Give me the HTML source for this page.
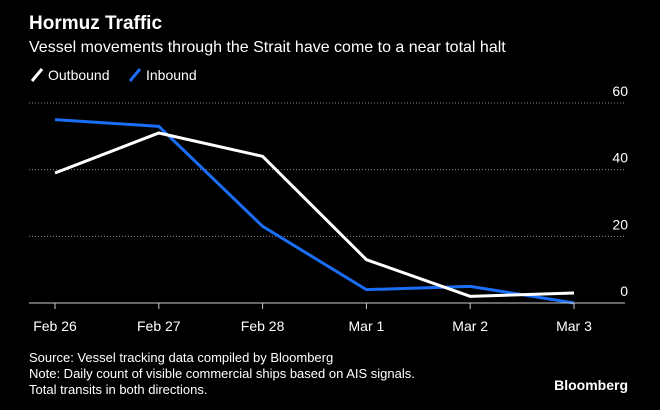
<!DOCTYPE html>
<html><head><meta charset="utf-8"><style>
body{margin:0;background:#000;width:660px;height:405px;overflow:hidden;font-family:"Liberation Sans",sans-serif;color:#fff}
</style></head><body>
<svg width="660" height="405" xmlns="http://www.w3.org/2000/svg">
<text x="29" y="29" font-size="19" font-weight="bold" fill="#fff">Hormuz Traffic</text>
<text x="29" y="52" font-size="16" fill="#fff">Vessel movements through the Strait have come to a near total halt</text>
<g><line x1="32" y1="81" x2="42" y2="69" stroke="#fff" stroke-width="3"/><text x="48" y="80" font-size="14" fill="#fff">Outbound</text></g>
<g><line x1="130" y1="81" x2="140" y2="69" stroke="#1a6ef5" stroke-width="3"/><text x="146" y="80" font-size="14" fill="#fff">Inbound</text></g>
<g id="grid"></g><g id="series"></g><g id="xaxis"></g>
<text x="29" y="362" font-size="13" fill="#fff">Source: Vessel tracking data compiled by Bloomberg</text>
<text x="29" y="378" font-size="13" fill="#fff">Note: Daily count of visible commercial ships based on AIS signals.</text>
<text x="29" y="394" font-size="13" fill="#fff">Total transits in both directions.</text>
<text x="628" y="390" font-size="14" font-weight="bold" fill="#fff" text-anchor="end">Bloomberg</text>
</svg>
<script>
const categories=["Feb 26","Feb 27","Feb 28","Mar 1","Mar 2","Mar 3"];
const outbound=[39,51,44,13,2,3];
const inbound=[55,53,23,4,5,0];
const yTicks=[0,20,40,60];
const NS="http://www.w3.org/2000/svg";
const x0=55,x1=574,yBase=303,yTop=103,yMax=60;
const xs=i=>x0+i*(x1-x0)/(categories.length-1);
const ys=v=>yBase-v*(yBase-yTop)/yMax;
function mk(t,a,p){const e=document.createElementNS(NS,t);for(const k in a)e.setAttribute(k,a[k]);p.appendChild(e);return e;}
const grid=document.getElementById('grid');
yTicks.forEach(v=>{
 if(v>0){const l=mk('line',{x1:29,x2:625,y1:ys(v),y2:ys(v),stroke:'#888','stroke-width':1,'stroke-dasharray':'1 2'},grid);
 
 }
 const t=mk('text',{x:628,y:ys(v)-7,'font-size':14,fill:'#fff','text-anchor':'end'},grid);t.textContent=v;
 
 
});
const xa=document.getElementById('xaxis');
const base=mk('line',{x1:29,x2:625,y1:yBase,y2:yBase,stroke:'#ccc','stroke-width':1},xa);


categories.forEach((c,i)=>{
 mk('line',{x1:xs(i),x2:xs(i),y1:yBase,y2:yBase+6,stroke:'#ccc'},xa);
 const t=mk('text',{x:xs(i),y:331,'font-size':14,fill:'#fff','text-anchor':'middle'},xa);t.textContent=c;
 
 
});
const sg=document.getElementById('series');
[[inbound,'#1a6ef5','inbound-line'],[outbound,'#fff','outbound-line']].forEach(([d,col,n])=>{
 const p=mk('polyline',{points:d.map((v,i)=>xs(i)+','+ys(v)).join(' '),fill:'none',stroke:col,'stroke-width':3,'stroke-linejoin':'miter'},sg);
 
 
});
</script>
</body></html>
